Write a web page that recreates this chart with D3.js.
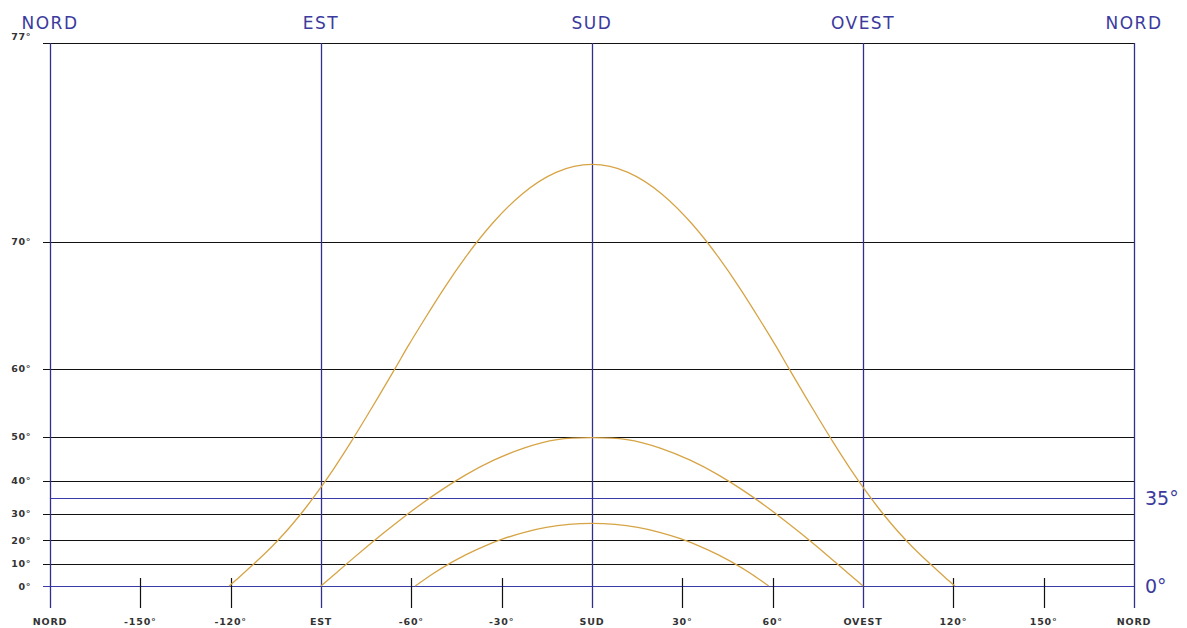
<!DOCTYPE html>
<html><head><meta charset="utf-8">
<script src="https://cdn.jsdelivr.net/npm/d3@7"></script>
<style>html,body{margin:0;padding:0;background:#fff;}svg{display:block;}</style>
</head><body>
<svg id="chart" width="1187" height="628"></svg>
<script>
// ---- data ----
const xTickValues = [-180,-150,-120,-90,-60,-30,0,30,60,90,120,150,180];
const xTickLabels = ["NORD","-150°","-120°","EST","-60°","-30°","SUD","30°","60°","OVEST","120°","150°","NORD"];
const cardinalValues = [-180,-90,0,90,180];
const cardinalLabels = ["NORD","EST","SUD","OVEST","NORD"];
const yTickValues = [0,10,20,30,40,50,60,70,77];
const yTickLabels = ["0°","10°","20°","30°","40°","50°","60°","70°","77°"];
const blueLevels = [0,35];
const blueLabels = ["0°","35°"];
// sun paths: [azimuth from south, altitude]
const summerPath = [[-120.5,0],[-117.0,4.23],[-112.76,9.44],[-108.37,14.82],[-104.05,20.33],[-99.73,25.95],[-95.32,31.64],[-90.71,37.38],[-85.73,43.12],[-80.18,48.83],[-73.71,54.42],[-65.81,59.79],[-61.1,62.4],[-55.63,64.83],[-49.29,67.11],[-41.87,69.16],[-33.18,70.91],[-23.16,72.27],[-11.94,73.14],[0,73.44],[11.94,73.14],[23.16,72.27],[33.18,70.91],[41.87,69.16],[49.29,67.11],[55.63,64.83],[61.1,62.4],[65.81,59.79],[73.71,54.42],[80.18,48.83],[85.73,43.12],[90.71,37.38],[95.32,31.64],[99.73,25.95],[104.05,20.33],[108.37,14.82],[112.76,9.44],[117.0,4.23],[120.5,0]];
const equinoxPath = [[-90,0],[-85.16,5.74],[-80.23,11.44],[-75.09,17.05],[-69.64,22.52],[-63.74,27.79],[-57.26,32.8],[-50.05,37.42],[-41.93,41.56],[-32.8,45.05],[-22.63,47.72],[-11.57,49.42],[0,49.8],[11.57,49.42],[22.63,47.72],[32.8,45.05],[41.93,41.56],[50.05,37.42],[57.26,32.8],[63.74,27.79],[69.64,22.52],[75.09,17.05],[80.23,11.44],[85.16,5.74],[90,0]];
const winterPath = [[-58.7,0],[-52.96,5.49],[-47.64,9.91],[-41.96,13.96],[-35.86,17.57],[-29.36,20.67],[-22.45,23.18],[-15.19,25.03],[-7.67,26.17],[0,26.56],[7.67,26.17],[15.19,25.03],[22.45,23.18],[29.36,20.67],[35.86,17.57],[41.96,13.96],[47.64,9.91],[52.96,5.49],[58.7,0]];

// ---- scales ----
const rad = d => d * Math.PI / 180;
const x = d3.scaleLinear().domain([-180,180]).range([50,1134]);
const yT = d3.scaleLinear().domain([0, Math.tan(rad(77))]).range([586,43]);
const y = a => yT(Math.tan(rad(a)));

const svg = d3.select("#chart");
const navy = "#2f2f8f", blue = "#3a3aa8", gold = "#d6a445";

// horizontal grid lines
svg.append("g").selectAll("line").data(yTickValues).join("line")
  .attr("x1", 43).attr("x2", x(180))
  .attr("y1", d => Math.round(y(d)) + 0.5).attr("y2", d => Math.round(y(d)) + 0.5)
  .attr("stroke", d => blueLevels.includes(d) ? blue : "#111").attr("stroke-width", 1.2);
// blue 35° line
svg.append("g").selectAll("line").data(blueLevels.filter(d => !yTickValues.includes(d))).join("line")
  .attr("x1", x(-180)).attr("x2", x(180))
  .attr("y1", d => Math.round(y(d)) + 0.5).attr("y2", d => Math.round(y(d)) + 0.5)
  .attr("stroke", blue).attr("stroke-width", 1.2);

// minor bottom ticks
svg.append("g").selectAll("line").data(xTickValues.filter(d => !cardinalValues.includes(d))).join("line")
  .attr("x1", d => Math.round(x(d)) + 0.5).attr("x2", d => Math.round(x(d)) + 0.5)
  .attr("y1", 578).attr("y2", 608).attr("stroke", "#111").attr("stroke-width", 1.2);
// cardinal verticals
svg.append("g").selectAll("line").data(cardinalValues).join("line")
  .attr("x1", d => Math.round(x(d)) + 0.5).attr("x2", d => Math.round(x(d)) + 0.5)
  .attr("y1", y(77)).attr("y2", 608).attr("stroke", navy).attr("stroke-width", 1.3);

// sun paths
const line = d3.line().x(d => x(d[0])).y(d => y(d[1])).curve(d3.curveNatural);
svg.append("g").selectAll("path").data([summerPath, equinoxPath, winterPath]).join("path")
  .attr("d", line).attr("fill", "none").attr("stroke", gold).attr("stroke-width", 1.3);

// top cardinal labels
svg.append("g").selectAll("text").data(cardinalValues).join("text")
  .attr("x", d => x(d)).attr("y", 29).attr("text-anchor", "middle")
  .attr("font-family", "DejaVu Sans, sans-serif").attr("font-size", 17)
  .attr("letter-spacing", 1.5).attr("fill", "#3b3b9e")
  .text((d, i) => cardinalLabels[i]);

// left y labels
svg.append("g").selectAll("text").data(yTickValues).join("text")
  .attr("x", 31).attr("y", d => y(d) + (d === 77 ? -3 : 3.5)).attr("text-anchor", "end")
  .attr("font-family", "DejaVu Sans, sans-serif").attr("font-size", 9.5).attr("font-weight", "bold")
  .attr("letter-spacing", 0.6).attr("fill", "#333")
  .text((d, i) => yTickLabels[i]);

// bottom x labels
svg.append("g").selectAll("text").data(xTickValues).join("text")
  .attr("x", d => x(d)).attr("y", 625).attr("text-anchor", "middle")
  .attr("font-family", "DejaVu Sans, sans-serif").attr("font-size", 9.5).attr("font-weight", "bold")
  .attr("letter-spacing", 0.8).attr("fill", "#333")
  .text((d, i) => xTickLabels[i]);

// right blue labels
svg.append("g").selectAll("text").data(blueLevels).join("text")
  .attr("x", 1145).attr("y", d => y(d) + 7).attr("text-anchor", "start")
  .attr("font-family", "DejaVu Sans, sans-serif").attr("font-size", 19)
  .attr("fill", "#3b3b9e")
  .text((d, i) => blueLabels[i]);
</script>
</body></html>
